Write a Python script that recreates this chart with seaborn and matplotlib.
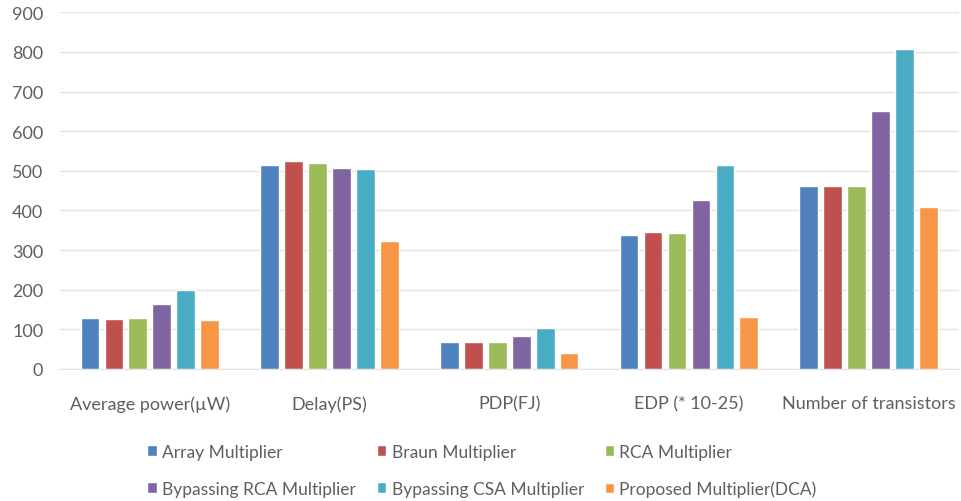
import matplotlib
matplotlib.use("Agg")
import matplotlib.pyplot as plt
import seaborn as sns
import pandas as pd
from matplotlib.patches import Patch

categories = ["Average power(µW)", "Delay(PS)", "PDP(FJ)", "EDP (* 10-25)", "Number of transistors"]
series = ["Array Multiplier", "Braun Multiplier", "RCA Multiplier",
          "Bypassing RCA Multiplier", "Bypassing CSA Multiplier", "Proposed Multiplier(DCA)"]
array_mult = [128, 515, 67, 339, 462]
braun_mult = [125, 526, 67, 346, 462]
rca_mult = [128, 520, 67, 343, 462]
bypass_rca = [165, 507, 84, 426, 650]
bypass_csa = [200, 505, 103, 515, 808]
proposed_dca = [123, 323, 40, 130, 408]
yticks = [0, 100, 200, 300, 400, 500, 600, 700, 800, 900]

colors = ["#4F81BD", "#C0504D", "#9BBB59", "#8064A2", "#4BACC6", "#F79646"]

values = [array_mult, braun_mult, rca_mult, bypass_rca, bypass_csa, proposed_dca]
rows = []
for name, vals in zip(series, values):
    for cat, v in zip(categories, vals):
        rows.append({"Category": cat, "Series": name, "Value": v})
df = pd.DataFrame(rows)

sns.set_style("white")
plt.rcParams["font.family"] = ["Lato", "DejaVu Sans"]
text_color = "#5f5f5f"

fig = plt.figure(figsize=(9.61, 5.02), dpi=100)
ax = fig.add_axes([0.0624, 0.263, 0.935, 0.7105])

sns.barplot(data=df, x="Category", y="Value", hue="Series", order=categories,
            hue_order=series, palette=colors, width=0.8, gap=0.22,
            saturation=1, ax=ax, legend=False)

ax.set_ylim(0, 900)
ax.set_yticks(yticks)
ax.set_xlim(-0.5, len(categories) - 0.5)
ax.grid(axis="y", color="#e3e3e3", linewidth=1)
ax.set_axisbelow(True)
for s in ["top", "right", "left"]:
    ax.spines[s].set_visible(False)
ax.spines["bottom"].set_color("#e3e3e3")
ax.set_xlabel("")
ax.set_ylabel("")
ax.tick_params(axis="y", length=0, pad=12, labelsize=13, labelcolor=text_color)
ax.tick_params(axis="x", length=0, pad=19, labelsize=13, labelcolor=text_color)

# Legend: two rows of three entries (legend fills column by column)
order = [0, 3, 1, 4, 2, 5]
handles = [Patch(facecolor=colors[i]) for i in order]
labels = [series[i] for i in order]
leg = fig.legend(handles, labels, loc="center left", bbox_to_anchor=(0.137, 0.061),
                 frameon=False, ncol=3, handlelength=0.55, handleheight=0.55,
                 handletextpad=0.3, fontsize=12.5, labelcolor=text_color,
                 columnspacing=1.2, labelspacing=1.2)

fig.savefig("out.png", dpi=100)
